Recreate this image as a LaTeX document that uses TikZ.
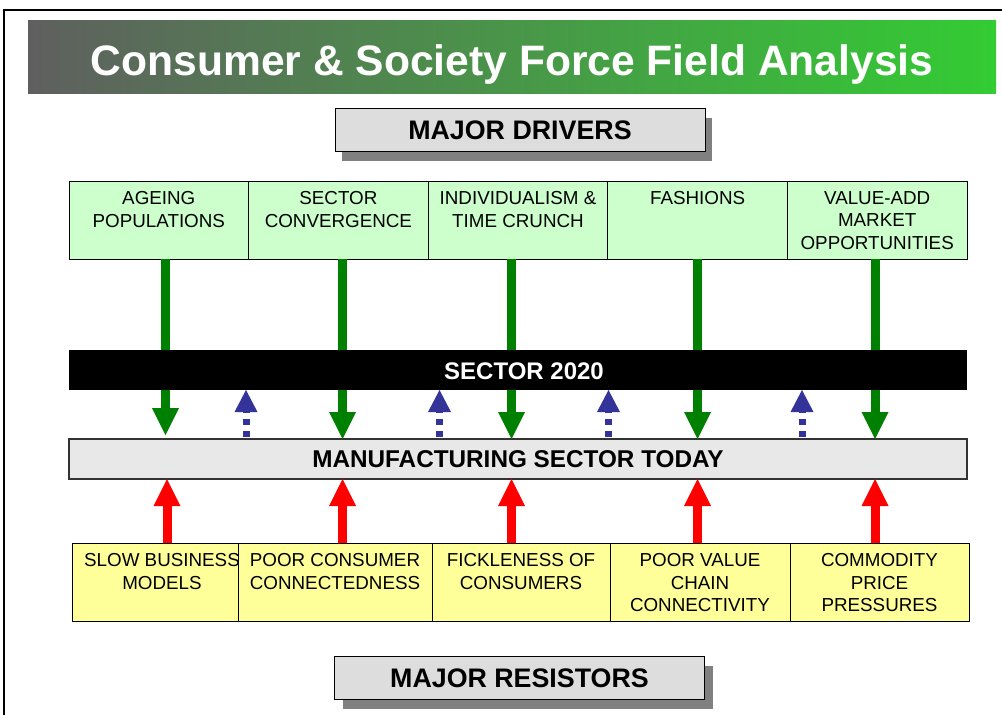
\documentclass[tikz,border=0pt]{standalone}
\usepackage{fontspec}
\setmainfont{Liberation Sans}
\usetikzlibrary{arrows.meta,calc}
\definecolor{drvgreen}{HTML}{CCFFCC}
\definecolor{resyellow}{HTML}{FFFF99}
\definecolor{lblgray}{HTML}{DDDDDD}
\definecolor{shadowgray}{HTML}{808080}
\definecolor{mfggray}{HTML}{E8E8E8}
\definecolor{arrgreen}{HTML}{008000}
\definecolor{arrblue}{HTML}{333399}
\definecolor{bannerleft}{HTML}{5F5F5F}
\definecolor{bannerright}{HTML}{33CC33}
\begin{document}
\begin{tikzpicture}[x=1pt,y=-1pt,
  box/.style={rectangle, inner sep=0pt, outer sep=0pt, anchor=north west},
  drvbox/.style={box, draw=black, line width=1pt, fill=drvgreen, minimum width=179.6pt, minimum height=78pt},
  resbox/.style={box, draw=black, line width=1pt, fill=resyellow, minimum height=78pt},
  boxtext/.style={inner sep=0pt, outer sep=0pt, anchor=north, align=center, font=\fontsize{18.8}{22.4}\selectfont},
  lblbox/.style={box, draw=black, line width=1pt, fill=lblgray, minimum width=370pt, minimum height=43pt, font=\bfseries\fontsize{26.8}{30}\selectfont},
  lblshadow/.style={box, fill=shadowgray, minimum width=370pt, minimum height=43pt},
  gforce/.style={line width=9pt, draw=arrgreen, -{Triangle[width=27pt,length=27pt,line width=0pt]}},
  rforce/.style={line width=9pt, draw=red, -{Triangle[width=27pt,length=27pt,line width=0pt]}},
  bforce/.style={line width=7pt, draw=arrblue, dash pattern=on 6pt off 6pt, shorten <=2pt, -{Triangle[width=23pt,length=22pt,line width=0pt]}},
]
\useasboundingbox (0,0) rectangle (1002,715);
\fill[white] (0,0) rectangle (1002,715);
% outer frame
\draw[line width=2pt] (4,10) rectangle (1012,730);

% title banner
\node[box, minimum width=968pt, minimum height=73.5pt, left color=bannerleft, right color=bannerright] (banner) at (28,20) {};
\node[anchor=base, inner sep=0pt, text=white, font=\bfseries\fontsize{42.6}{48}\selectfont] (title) at (512,75) {Consumer \& Society Force Field Analysis};

% major drivers label
\node[lblshadow] (drvshadow) at (342,117.5) {};
\node[lblbox] (drivers) at (335,108.5) {MAJOR DRIVERS};

% driver boxes
\node[drvbox] (d1) at (69,181) {};
\node[drvbox] (d2) at (248.6,181) {};
\node[drvbox] (d3) at (428.2,181) {};
\node[drvbox] (d4) at (607.8,181) {};
\node[drvbox] (d5) at (787.4,181) {};
\node[boxtext] (d1t) at ($(d1.north)+(0,10.5)$) {AGEING\\POPULATIONS};
\node[boxtext] (d2t) at ($(d2.north)+(0,10.5)$) {SECTOR\\CONVERGENCE};
\node[boxtext] (d3t) at ($(d3.north)+(0,10.5)$) {INDIVIDUALISM \&\\TIME CRUNCH};
\node[boxtext] (d4t) at ($(d4.north)+(0,10.5)$) {FASHIONS};
\node[boxtext] (d5t) at ($(d5.north)+(0,10.5)$) {VALUE-ADD\\MARKET\\OPPORTUNITIES};

% manufacturing box
\node[box, draw=black!80, line width=1.2pt, fill=mfggray, minimum width=898pt, minimum height=40pt, font=\bfseries\fontsize{24.3}{26}\selectfont] (mfg) at (69,439) {MANUFACTURING SECTOR TODAY};

% green driving arrows
\coordinate (gx1) at (165.5,0);
\coordinate (gx2) at (342.5,0);
\coordinate (gx3) at (511.5,0);
\coordinate (gx4) at (697.5,0);
\coordinate (gx5) at (875,0);
\draw[gforce] (gx1 |- d1.south) -- ($(gx1 |- mfg.north)+(0,-4)$);
\draw[gforce] (gx2 |- d2.south) -- (gx2 |- mfg.north);
\draw[gforce] (gx3 |- d3.south) -- (gx3 |- mfg.north);
\draw[gforce] (gx4 |- d4.south) -- (gx4 |- mfg.north);
\draw[gforce] (gx5 |- d5.south) -- (gx5 |- mfg.north);

% sector 2020 bar
\node[box, fill=black, minimum width=898pt, minimum height=40pt] (bar) at (69,350) {};
\node[inner sep=0pt, text=white, font=\bfseries\fontsize{24}{26}\selectfont] (bartext) at (524,371) {SECTOR 2020};

% blue dashed arrows
\coordinate (bx1) at (246,0);
\coordinate (bx2) at (439.5,0);
\coordinate (bx3) at (608.5,0);
\coordinate (bx4) at (802,0);
\draw[bforce] (bx1 |- mfg.north) -- (bx1 |- bar.south);
\draw[bforce] (bx2 |- mfg.north) -- (bx2 |- bar.south);
\draw[bforce] (bx3 |- mfg.north) -- (bx3 |- bar.south);
\draw[bforce] (bx4 |- mfg.north) -- (bx4 |- bar.south);

% resistor boxes
\node[resbox, minimum width=180pt] (r1) at (72,543) {};
\node[boxtext] (r1t) at (162,553.5) {SLOW BUSINESS\\MODELS};
\node[resbox, minimum width=194pt] (r2) at (238,543) {};
\node[resbox, minimum width=178pt] (r3) at (432,543) {};
\node[resbox, minimum width=180pt] (r4) at (610,543) {};
\node[resbox, minimum width=179pt] (r5) at (790,543) {};
\node[boxtext] (r2t) at ($(r2.north)+(0,10.5)$) {POOR CONSUMER\\CONNECTEDNESS};
\node[boxtext] (r3t) at ($(r3.north)+(0,10.5)$) {FICKLENESS OF\\CONSUMERS};
\node[boxtext] (r4t) at ($(r4.north)+(0,10.5)$) {POOR VALUE\\CHAIN\\CONNECTIVITY};
\node[boxtext] (r5t) at ($(r5.north)+(0,10.5)$) {COMMODITY\\PRICE\\PRESSURES};

% red resisting arrows
\coordinate (rx1) at (167,0);
\coordinate (rx2) at (342.5,0);
\coordinate (rx3) at (511.5,0);
\coordinate (rx4) at (697.5,0);
\coordinate (rx5) at (875,0);
\draw[rforce] (rx1 |- r1.north) -- (rx1 |- mfg.south);
\draw[rforce] (rx2 |- r2.north) -- (rx2 |- mfg.south);
\draw[rforce] (rx3 |- r3.north) -- (rx3 |- mfg.south);
\draw[rforce] (rx4 |- r4.north) -- (rx4 |- mfg.south);
\draw[rforce] (rx5 |- r5.north) -- (rx5 |- mfg.south);

% major resistors label
\node[lblshadow] (resshadow) at (343,666) {};
\node[lblbox] (resistors) at (334.5,656.5) {MAJOR RESISTORS};
\end{tikzpicture}
\end{document}
